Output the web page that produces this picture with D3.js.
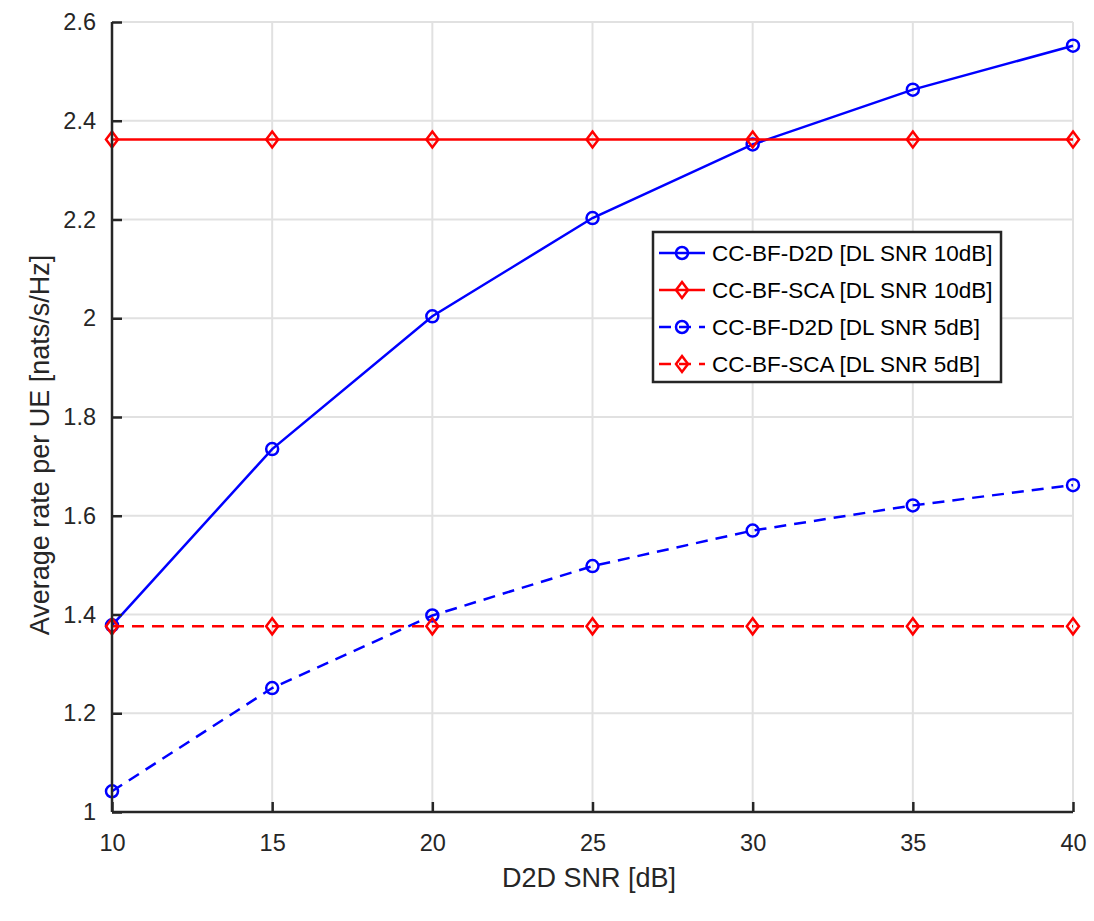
<!DOCTYPE html>
<html>
<head>
<meta charset="utf-8">
<script src="https://cdn.jsdelivr.net/npm/d3@7"></script>
<style>
  body { margin: 0; background: #fff; }
  #chart { width: 1094px; height: 921px; }
  text { font-family: "Liberation Sans", Arial, sans-serif; fill: #262626; }
</style>
</head>
<body>
<div id="chart"></div>
<script>
// data
const snr = [10, 15, 20, 25, 30, 35, 40];
const d2d10 = [1.378, 1.735, 2.004, 2.203, 2.352, 2.463, 2.552];
const sca10 = [2.362, 2.362, 2.362, 2.362, 2.362, 2.362, 2.362];
const d2d5 = [1.042, 1.251, 1.398, 1.498, 1.570, 1.621, 1.662];
const sca5 = [1.376, 1.376, 1.376, 1.376, 1.376, 1.376, 1.376];
const xTicks = [10, 15, 20, 25, 30, 35, 40];
const yTicks = [1, 1.2, 1.4, 1.6, 1.8, 2, 2.2, 2.4, 2.6];
const seriesNames = ["CC-BF-D2D [DL SNR 10dB]", "CC-BF-SCA [DL SNR 10dB]",
                     "CC-BF-D2D [DL SNR 5dB]", "CC-BF-SCA [DL SNR 5dB]"];

const width = 1094, height = 921;
const margin = { top: 22, left: 112, right: 21, bottom: 109 };

const svg = d3.select("#chart").append("svg")
    .attr("width", width)
    .attr("height", height);

const xScale = d3.scaleLinear().domain([10, 40]).range([margin.left, width - margin.right]);
const yScale = d3.scaleLinear().domain([1, 2.6]).range([height - margin.bottom, margin.top]);

// grid
svg.append("g").selectAll("line").data(xTicks).enter().append("line")
    .attr("x1", d => xScale(d)).attr("x2", d => xScale(d))
    .attr("y1", yScale(1)).attr("y2", yScale(2.6))
    .attr("stroke", "#e1e1e1").attr("stroke-width", 2);
svg.append("g").selectAll("line").data(yTicks).enter().append("line")
    .attr("x1", xScale(10)).attr("x2", xScale(40))
    .attr("y1", d => yScale(d)).attr("y2", d => yScale(d))
    .attr("stroke", "#e1e1e1").attr("stroke-width", 2);

// series
const series = [
    { name: seriesNames[0], values: d2d10, color: "#0000ff", dash: null, marker: "o" },
    { name: seriesNames[1], values: sca10, color: "#ff0000", dash: null, marker: "d" },
    { name: seriesNames[2], values: d2d5, color: "#0000ff", dash: "12,8", marker: "o" },
    { name: seriesNames[3], values: sca5, color: "#ff0000", dash: "12,8", marker: "d" }
];

const line = d3.line().x((d, i) => xScale(snr[i])).y(d => yScale(d));
const diamond = "M0,-8L6,0L0,8L-6,0Z";

function drawMarker(g, type, color) {
    if (type === "o") {
        g.append("circle").attr("r", 6).attr("fill", "none")
            .attr("stroke", color).attr("stroke-width", 2.5);
    } else {
        g.append("path").attr("d", diamond).attr("fill", "none")
            .attr("stroke", color).attr("stroke-width", 2.5);
    }
}

series.forEach(s => {
    svg.append("path").datum(s.values)
        .attr("d", line)
        .attr("fill", "none")
        .attr("stroke", s.color)
        .attr("stroke-width", 2.5)
        .attr("stroke-dasharray", s.dash);
    s.values.forEach((v, i) => {
        const g = svg.append("g").attr("transform", `translate(${xScale(snr[i])},${yScale(v)})`);
        drawMarker(g, s.marker, s.color);
    });
});

// axes (MATLAB style, ticks inward)
const xAxis = svg.append("g")
    .attr("transform", `translate(0,${height - margin.bottom})`)
    .call(d3.axisBottom(xScale).tickValues(xTicks).tickSize(-10).tickPadding(22).tickFormat(d3.format("d")));
const yAxis = svg.append("g")
    .attr("transform", `translate(${margin.left},0)`)
    .call(d3.axisLeft(yScale).tickValues(yTicks).tickSize(-10).tickPadding(16).tickFormat(d => d3.format("")(d)));

[xAxis, yAxis].forEach(ax => {
    ax.select(".domain").attr("stroke", "#262626").attr("stroke-width", 2.5);
    ax.selectAll(".tick line").attr("stroke", "#262626").attr("stroke-width", 2.5);
    ax.selectAll(".tick text").attr("font-size", 23.5).attr("fill", "#262626")
        .attr("font-family", "Liberation Sans, Arial, sans-serif");
});
xAxis.select(".domain").attr("d", `M${xScale(10)},0H${xScale(40)}`);
yAxis.select(".domain").attr("d", `M0,${yScale(1)}V${yScale(2.6)}`);

// axis labels
svg.append("text")
    .attr("x", 589).attr("y", 887)
    .attr("text-anchor", "middle")
    .attr("font-size", 27)
    .text("D2D SNR [dB]");
svg.append("text")
    .attr("transform", "rotate(-90)")
    .attr("x", -445).attr("y", 49)
    .attr("text-anchor", "middle")
    .attr("font-size", 27)
    .text("Average rate per UE [nats/s/Hz]");

// legend
const legend = svg.append("g");
legend.append("rect")
    .attr("x", 653).attr("y", 232)
    .attr("width", 348).attr("height", 150)
    .attr("fill", "#fff")
    .attr("stroke", "#262626").attr("stroke-width", 2.5);

series.forEach((s, i) => {
    const yy = 253 + i * 37;
    const row = legend.append("g").attr("transform", `translate(0,${yy})`);
    row.append("line")
        .attr("x1", 659).attr("x2", 705)
        .attr("stroke", s.color).attr("stroke-width", 2.5)
        .attr("stroke-dasharray", s.dash);
    const m = row.append("g").attr("transform", "translate(682,0)");
    drawMarker(m, s.marker, s.color);
    row.append("text")
        .attr("x", 712).attr("y", 8)
        .attr("font-size", 22.5)
        .style("fill", "#000")
        .text(s.name);
});
</script>
</body>
</html>
